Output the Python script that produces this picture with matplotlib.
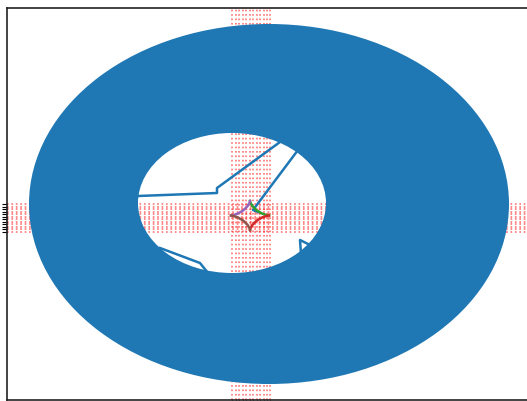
import matplotlib
matplotlib.use("Agg")
import matplotlib.pyplot as plt
from matplotlib.path import Path
from matplotlib.patches import PathPatch
from matplotlib.transforms import Affine2D

# positions of the dotted red guide lines (pixel-like data units)
vline_x = [232, 235.5, 239, 242.5, 246, 249.5, 253, 256.5, 260, 263.5, 267, 270]
hline_y = [204, 206.5, 209, 211.5, 214, 216.5, 219, 221.5, 224, 226.5, 229, 231.5]

# big ring: outer and inner ellipse (center x, center y, radius x, radius y)
ring_outer = (269, 204, 240, 180)
ring_inner = (232, 203, 94, 70)

# thin blue traces visible inside the hole
trace_a_x = [138, 217, 217, 280]
trace_a_y = [196, 193, 188, 142]
trace_b_x = [298, 253, 258]
trace_b_y = [150, 210, 212]
trace_c_x = [160, 200, 208]
trace_c_y = [248, 263, 273]
trace_d_x = [301, 300, 314]
trace_d_y = [254, 240, 247]

# four arcs of the star in the middle
arc_green_x = [269, 267.1, 262.4, 256.7, 252.4, 250.3, 250]
arc_green_y = [215.5, 215.3, 213.7, 210.4, 206.1, 202.4, 201]
arc_purple_x = [250, 249.7, 247.6, 243.3, 237.6, 232.9, 231]
arc_purple_y = [201, 202.4, 206.1, 210.4, 213.7, 215.3, 215.5]
arc_brown_x = [231, 232.9, 237.6, 243.3, 247.6, 249.7, 250]
arc_brown_y = [215.5, 215.8, 217.3, 220.6, 224.9, 228.6, 230]
arc_red_x = [250, 250.3, 252.4, 256.7, 262.4, 267.1, 269]
arc_red_y = [230, 228.6, 224.9, 220.6, 217.3, 215.8, 215.5]


def ellipse_path(cx, cy, rx, ry, reverse=False):
    circ = Path.unit_circle()
    verts = circ.vertices[:-1]
    if reverse:
        verts = verts[::-1]
    verts = list(verts) + [verts[0]]
    verts = Affine2D().scale(rx, ry).translate(cx, cy).transform(verts)
    return Path(verts, circ.codes)


fig = plt.figure(figsize=(5.27, 4.01), dpi=100)
ax = fig.add_axes([7 / 527, 1 / 401, (535 - 7) / 527, 392 / 401])
ax.set_xlim(7, 535)
ax.set_ylim(400, 8)

for x in vline_x:
    ax.axvline(x, color="red", linestyle=":", linewidth=1.2, alpha=0.55, zorder=1)
for y in hline_y:
    ax.axhline(y, color="red", linestyle=":", linewidth=1.2, alpha=0.55, zorder=1)

ring = Path.make_compound_path(ellipse_path(*ring_outer), ellipse_path(*ring_inner, reverse=True))
ax.add_patch(PathPatch(ring, facecolor="#1f77b4", edgecolor="none", zorder=2))

for xs, ys in [(trace_a_x, trace_a_y), (trace_b_x, trace_b_y),
               (trace_c_x, trace_c_y), (trace_d_x, trace_d_y)]:
    ax.plot(xs, ys, color="#1f77b4", linewidth=1.8, zorder=3)

ax.plot(arc_green_x, arc_green_y, color="#2ca02c", linewidth=1.8, zorder=3)
ax.plot(arc_red_x, arc_red_y, color="#d62728", linewidth=1.8, zorder=3)
ax.plot(arc_purple_x, arc_purple_y, color="#9467bd", linewidth=1.8, zorder=3)
ax.plot(arc_brown_x, arc_brown_y, color="#8c564b", linewidth=1.8, zorder=3)

ax.set_yticks(hline_y)
ax.set_yticklabels([])
ax.set_xticks(vline_x)
ax.set_xticklabels([])
for side in ax.spines.values():
    side.set_linewidth(1.2)
    side.set_color("#222222")

fig.savefig("out.png", dpi=100)
